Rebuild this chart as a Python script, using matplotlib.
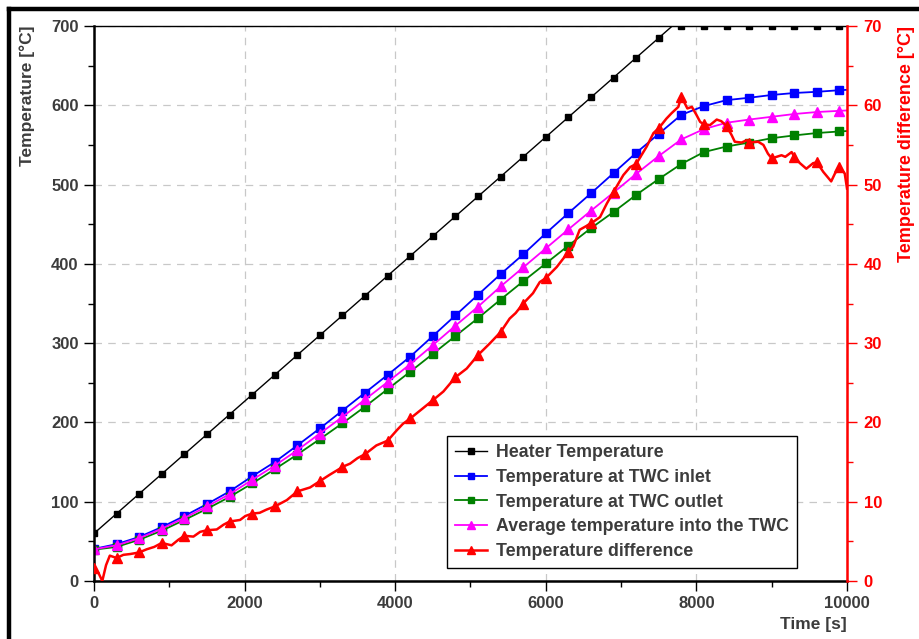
import numpy as np
import matplotlib
matplotlib.use("Agg")
import matplotlib.pyplot as plt
from matplotlib.lines import Line2D
from matplotlib.ticker import MultipleLocator

plt.rcParams['font.family'] = ['Liberation Sans', 'DejaVu Sans']
plt.rcParams['font.weight'] = 'bold'
plt.rcParams['axes.labelweight'] = 'bold'

TEXT = '#3c3c3c'
RED = '#ff0000'

# ---- data -------------------------------------------------------------
# sample times of the thermocouple curves (s)
t_samples = [0, 300, 600, 900, 1200, 1500, 1800, 2100, 2400, 2700, 3000, 3300,
             3600, 3900, 4200, 4500, 4800, 5100, 5400, 5700, 6000, 6300, 6600,
             6900, 7200, 7500, 7800, 8100, 8400, 8700, 9000, 9300, 9600, 9900,
             10000]

inlet_temp = [40.5, 46.5, 55.5, 68, 82, 97, 113, 132, 150, 171, 192.5, 215,
              237.5, 260, 283, 309, 335, 361, 387, 412, 438.5, 464, 489, 514.5,
              540, 564, 588, 599, 606.5, 609.5, 613, 615.5, 617, 619, 619.5]

outlet_temp = [39.5, 43, 52, 63.5, 77, 91, 106, 123, 141, 159.5, 179, 199,
               220, 242, 264, 286.5, 309, 331.5, 355, 378, 400.5, 423, 445,
               465.5, 487, 507, 526, 541, 548, 553, 558.5, 562, 565, 567, 567.5]

average_temp = [40, 45, 54, 66, 79.5, 94, 109.5, 127.5, 145.5, 165, 186, 207,
                229, 251, 273.5, 297.5, 322, 346, 371.5, 395.5, 419.5, 443.5,
                467, 490, 513.5, 536, 557, 570, 578, 582, 585.5, 589, 591.5,
                593, 593.5]

# heater set-point ramp, reaching its plateau at 7680 s
heater_time = [0, 300, 600, 900, 1200, 1500, 1800, 2100, 2400, 2700, 3000,
               3300, 3600, 3900, 4200, 4500, 4800, 5100, 5400, 5700, 6000,
               6300, 6600, 6900, 7200, 7500, 7680, 7800, 8100, 8400, 8700,
               9000, 9300, 9600, 9900, 10000]
heater_temp = [60, 85, 110, 135, 160, 185, 210, 235, 260, 285, 310, 335, 360,
               385, 410, 435, 460, 485, 510, 535, 560, 585, 610, 635, 660, 685,
               700, 700, 700, 700, 700, 700, 700, 700, 700, 700]

# inlet-outlet temperature difference (dense record)
diff_time = [0, 60, 110, 160, 210, 300, 390, 480, 600, 700, 800, 900, 1030,
             1120, 1200, 1320, 1410, 1500, 1630, 1720, 1800, 1940, 2010, 2100,
             2200, 2290, 2400, 2560, 2700, 2870, 3000, 3130, 3270, 3300, 3400,
             3500, 3600, 3750, 3900, 4020, 4100, 4200, 4370, 4500, 4640, 4800,
             4950, 5100, 5260, 5400, 5520, 5600, 5700, 5830, 5920, 6000, 6145,
             6300, 6365, 6450, 6600, 6720, 6810, 6900, 7030, 7120, 7200, 7340,
             7430, 7500, 7600, 7670, 7760, 7800, 7880, 7940, 8000, 8050, 8100,
             8180, 8270, 8330, 8400, 8470, 8510, 8600, 8670, 8700, 8820, 8890,
             8950, 9000, 9065, 9130, 9180, 9265, 9300, 9375, 9460, 9550, 9600,
             9685, 9790, 9840, 9900, 9970, 10000]
diff_temp = [1.6, 1.0, 0.0, 2.0, 3.2, 2.9, 3.3, 3.4, 3.6, 4.0, 4.3, 4.8, 4.5,
             5.2, 5.7, 5.6, 6.2, 6.4, 6.5, 7.1, 7.5, 7.7, 8.2, 8.5, 8.6, 9.0,
             9.4, 10.2, 11.3, 11.8, 12.6, 13.4, 14.2, 14.4, 14.8, 15.5, 16.0,
             17.1, 17.7, 19.0, 19.8, 20.5, 21.8, 22.8, 23.9, 25.7, 26.8, 28.5,
             30.0, 31.4, 33.1, 33.8, 35.0, 36.3, 37.7, 38.2, 39.6, 41.5, 42.2,
             44.3, 45.1, 45.9, 47.6, 49.1, 51.2, 52.2, 52.6, 54.8, 56.5, 57.1,
             58.3, 59.0, 59.8, 61.1, 59.6, 59.8, 58.8, 57.9, 57.6, 57.5, 58.2,
             58.0, 57.4, 56.2, 55.4, 55.3, 55.6, 55.3, 55.4, 55.0, 53.9, 53.3,
             53.5, 53.7, 53.5, 54.1, 53.5, 52.7, 52.0, 52.7, 52.8, 51.6, 50.4,
             51.4, 52.2, 51.4, 49.5]

series_names = ['Heater Temperature', 'Temperature at TWC inlet',
                'Temperature at TWC outlet', 'Average temperature into the TWC',
                'Temperature difference']

# ---- figure -------------------------------------------------------------
fig = plt.figure(figsize=(9.2, 6.39), dpi=100)
ax = fig.add_axes([94 / 920, 1 - 581 / 639, 753 / 920, 555 / 639])
ax2 = ax.twinx()


def marker_idx(times, step=300):
    return [i for i, t in enumerate(times) if t % step == 0 and t < 10000]


h1, = ax.plot(heater_time, heater_temp, color='black', lw=1.0, marker='s',
              ms=5, markevery=marker_idx(heater_time), label=series_names[0])
h2, = ax.plot(t_samples, inlet_temp, color='#0000ff', lw=1.3, marker='s',
              ms=5.5, markevery=marker_idx(t_samples), label=series_names[1])
h3, = ax.plot(t_samples, outlet_temp, color='#008000', lw=1.3, marker='s',
              ms=5.5, markevery=marker_idx(t_samples), label=series_names[2])
h4, = ax.plot(t_samples, average_temp, color='#ff00ff', lw=1.3, marker='^',
              ms=6.5, markevery=marker_idx(t_samples), label=series_names[3])
h5, = ax2.plot(diff_time, diff_temp, color=RED, lw=1.8, marker='^', ms=6.5,
               markevery=marker_idx(diff_time), label=series_names[4])

# left axis
ax.set_xlim(0, 10000)
ax.set_ylim(0, 700)
ax.xaxis.set_major_locator(MultipleLocator(2000))
ax.xaxis.set_minor_locator(MultipleLocator(1000))
ax.yaxis.set_major_locator(MultipleLocator(100))
ax.yaxis.set_minor_locator(MultipleLocator(50))
ax.tick_params(axis='both', which='major', direction='out', length=7,
               width=1.0, labelsize=12, colors='black', labelcolor=TEXT, pad=4)
ax.tick_params(axis='both', which='minor', direction='out', length=4,
               width=1.0, colors='black')
ax.tick_params(axis='x', top=False)
ax.grid(True, which='major', linestyle=(0, (6, 5)), color='#c8c8c8', lw=0.9)
ax.set_axisbelow(True)
for s in ['left', 'bottom']:
    ax.spines[s].set_linewidth(1.8)
ax.spines['top'].set_linewidth(1.0)
ax.spines['right'].set_visible(False)

ax.set_ylabel('Temperature [°C]', loc='top', fontsize=12.5, color=TEXT)
ax.yaxis.set_label_coords(-0.078, 1.0)
ax.set_xlabel('Time [s]', loc='right', fontsize=12.5, color=TEXT, labelpad=4)

# right axis
ax2.set_ylim(0, 70)
ax2.yaxis.set_major_locator(MultipleLocator(10))
ax2.yaxis.set_minor_locator(MultipleLocator(5))
ax2.tick_params(axis='y', which='major', direction='out', length=7, width=1.0,
                labelsize=12, colors=RED, pad=5)
ax2.tick_params(axis='y', which='minor', direction='out', length=4, width=1.0,
                colors=RED)
for s in ['left', 'top', 'bottom']:
    ax2.spines[s].set_visible(False)
ax2.spines['right'].set_color(RED)
ax2.spines['right'].set_linewidth(1.8)
ax2.set_ylabel('Temperature difference [°C]', loc='top', fontsize=13,
               color=RED)
ax2.yaxis.set_label_coords(1.068, 1.0)

leg = ax2.legend(handles=[h1, h2, h3, h4, h5], loc='lower right',
                 bbox_to_anchor=(0.933, 0.023), borderaxespad=0,
                 fontsize=12.8, frameon=True, fancybox=False, framealpha=1,
                 edgecolor='black', handlelength=1.8, handletextpad=0.5,
                 labelspacing=0.44, borderpad=0.45, markerscale=0.85)
leg.get_frame().set_linewidth(1.0)
for txt in leg.get_texts():
    txt.set_color(TEXT)

# outer frame of the figure
fig.add_artist(Line2D([9 / 920, 1.0], [1 - 9 / 639, 1 - 9 / 639],
                      transform=fig.transFigure, color='black', lw=3.2))
fig.add_artist(Line2D([9 / 920, 9 / 920], [0.0, 1 - 9 / 639],
                      transform=fig.transFigure, color='black', lw=3.2))

fig.savefig('out.png', dpi=100, facecolor='white')
